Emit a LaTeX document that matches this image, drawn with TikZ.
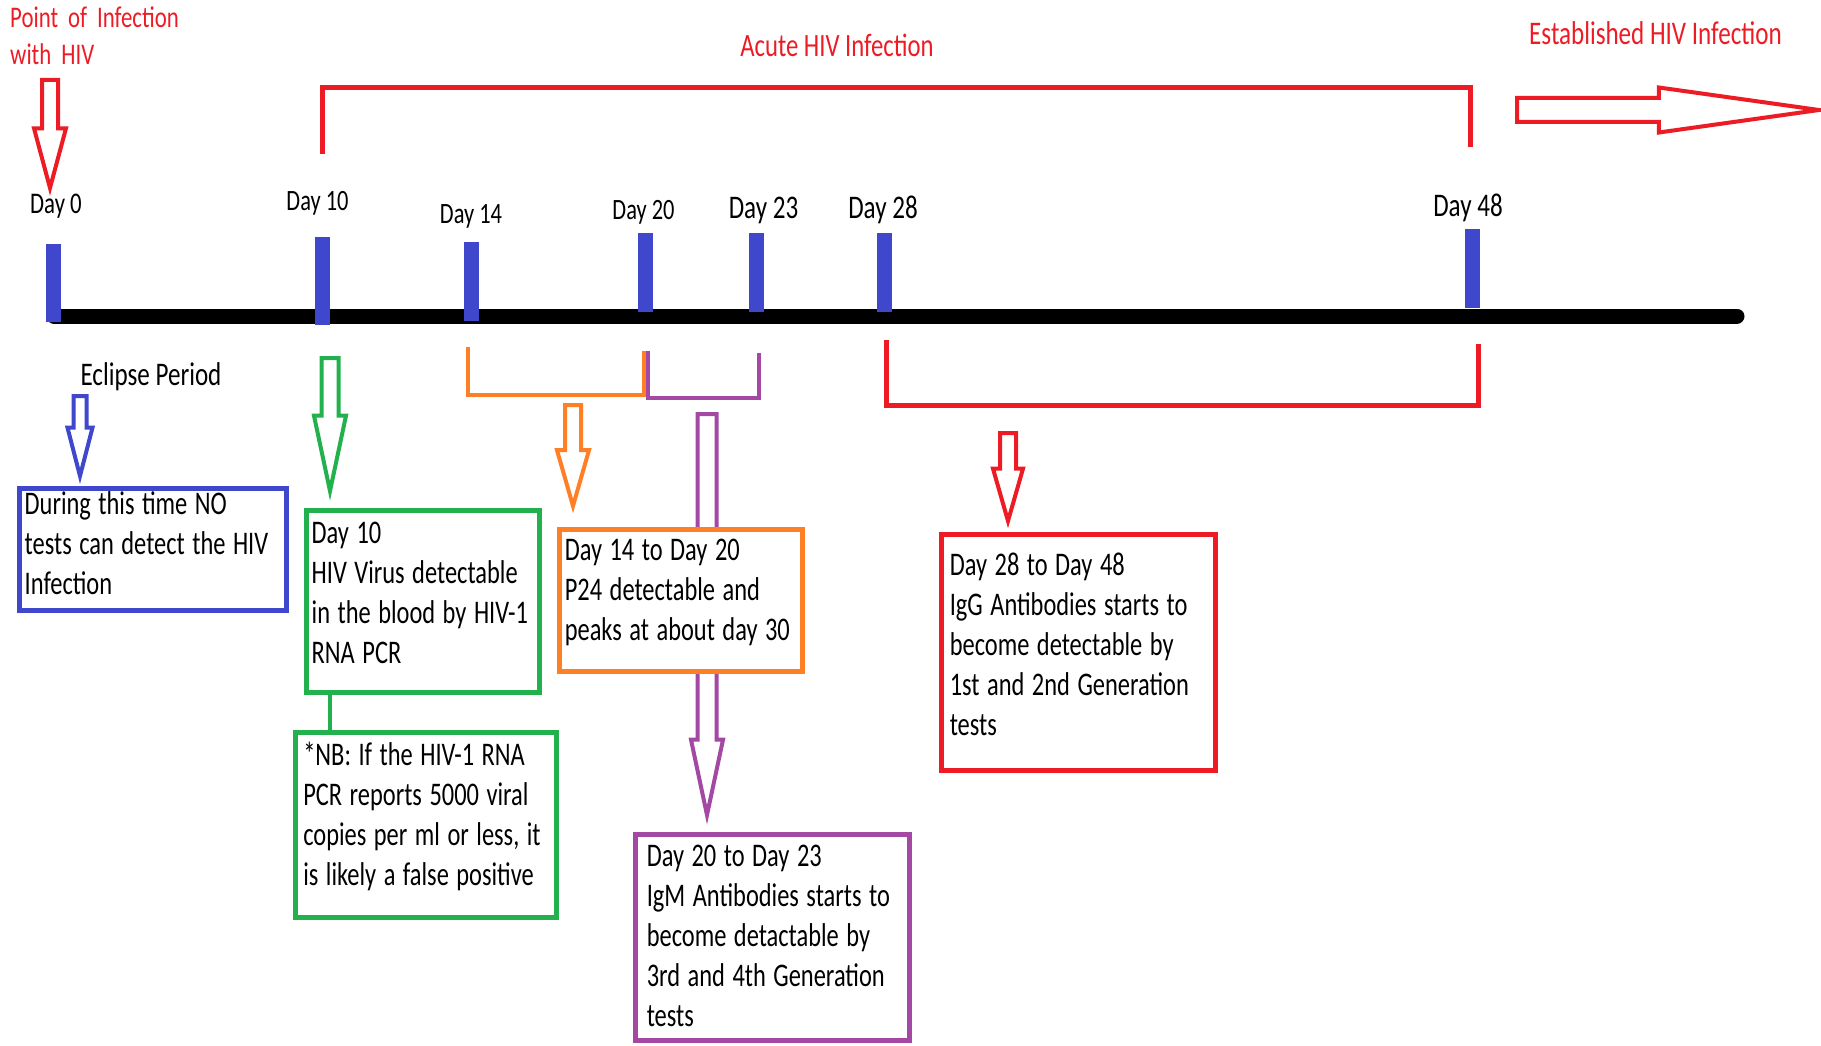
\documentclass[tikz,border=0pt]{standalone}
\usepackage{fontspec}
\setmainfont{Carlito}[FakeStretch=0.76]
\newfontfamily\boxfont{Carlito}[FakeStretch=0.74]
\usetikzlibrary{shapes.arrows}
\definecolor{hivRed}{HTML}{ED1C24}
\definecolor{hivBlue}{HTML}{3F48CC}
\definecolor{hivGreen}{HTML}{22B14C}
\definecolor{hivOrange}{HTML}{FF7F27}
\definecolor{hivPurple}{HTML}{A349A4}
\newcommand{\tightspace}{\spaceskip=7.5pt plus 2pt minus 1pt\relax}

\begin{document}
\begin{tikzpicture}[x=1pt, y=-1pt,
    infobox/.style={rectangle, draw=#1, line width=5pt, fill=white, anchor=north west,
                    outer sep=0pt, inner ysep=0pt, align=left,
                    font=\boxfont\fontsize{33}{40}\selectfont,
                    execute at begin node=\tightspace},
    hollow/.style={single arrow, draw=#1, line width=4pt, fill=white,
                   inner xsep=0pt, outer sep=0pt, anchor=tail},
    bracket/.style={draw=#1, line width=4.5pt},
    daytick/.style={rectangle, fill=hivBlue, minimum width=15pt, inner sep=0pt},
    daylabel/.style={anchor=base, inner sep=0pt},
    heading/.style={inner sep=0pt, anchor=base}
  ]
  \useasboundingbox (0,0) rectangle (1821,1046);

  % Timeline with the day marks
  \coordinate (tstart) at (54,316);
  \coordinate (tend) at (1737,316);
  \draw[line width=15pt, line cap=round] (tstart) -- (tend);
  \foreach \dd/\x/\ytop/\ybot/\lx/\ly/\fs in {0/53/244/322/56/213/30,
      10/322/237/325/317.5/210/29.5, 14/471/242/321/471/223/29.5,
      20/645/233/312/643.5/219.5/29.5, 23/756/233/312/763.5/218/33,
      28/884/233/312/883/218/33, 48/1472/229/308/1468/216/33} {
    \node[daytick, minimum height={\ybot-\ytop}] (d\dd) at (\x,{(\ytop+\ybot)/2}) {};
    \node[daylabel, font=\fontsize{\fs}{\fs}\selectfont] (l\dd) at (\lx,\ly) {Day \dd};
  }

  % Headings
  \node[heading, anchor=base west, text width=200pt, align=left, text=hivRed,
        font=\fontsize{30}{37}\selectfont] (poi) at (10,28) {Point of Infection\\ with HIV};
  \node[heading, text=hivRed, font=\fontsize{32.5}{33}\selectfont] (acute) at (837,57) {Acute HIV Infection};
  \node[heading, text=hivRed, font=\fontsize{33}{33}\selectfont] (established) at (1655.5,45) {Established HIV Infection};
  \node[heading, font=\fontsize{33}{33}\selectfont] (eclipse) at (151,385) {Eclipse Period};

  % Brackets
  \draw[bracket=hivRed] (322.5,154) -- (322.5,87.5) -- (1470.5,87.5) -- (1470.5,147);
  \draw[bracket=hivOrange, line width=4pt] (468,347) -- (468,395) -- (644,395) -- (644,351);
  \draw[bracket=hivPurple, line width=4pt] (648,351) -- (648,398) -- (759,398) -- (759,353);
  \draw[bracket=hivRed, line width=5pt] (886,340) -- (886,405) -- (1478,405) -- (1478,344);

  % Hollow arrows
  \node[hollow=hivRed, rotate=-90, minimum height=108pt, inner ysep=6pt,
        single arrow head extend=8pt, single arrow tip angle=30] (arrinf) at (50,80) {};
  \node[hollow=hivRed, minimum height=302pt, inner ysep=10pt,
        single arrow head extend=10.5pt, single arrow tip angle=16] (arrest) at (1517,110) {};
  \node[hollow=hivBlue, rotate=-90, minimum height=80pt, inner ysep=4.5pt,
        single arrow head extend=6pt, single arrow tip angle=29] (arrecl) at (80,396) {};
  \node[hollow=hivGreen, rotate=-90, minimum height=133pt, inner ysep=6.5pt,
        single arrow head extend=7.5pt, single arrow tip angle=24] (arrten) at (330,358) {};
  \node[hollow=hivOrange, rotate=-90, minimum height=101pt, inner ysep=6pt,
        single arrow head extend=8pt, single arrow tip angle=32] (arrpts) at (573,405) {};
  \node[hollow=hivPurple, rotate=-90, minimum height=401pt, inner ysep=7.5pt,
        single arrow head extend=6.5pt, single arrow tip angle=24] (arrigm) at (707,414) {};
  \node[hollow=hivRed, rotate=-90, minimum height=88pt, inner ysep=6pt,
        single arrow head extend=7pt, single arrow tip angle=32] (arrigg) at (1008,433) {};

  % Boxes
  \node[infobox=hivBlue, inner xsep=5pt, text width=257pt, text height=25.5pt, text depth=96.5pt]
    (boxecl) at (19.7,488.5) {During this time NO\\ tests can detect the HIV\\ Infection};
  \node[infobox=hivGreen, inner xsep=5pt, text width=222.3pt, text height=33pt, text depth=149.6pt]
    (boxten) at (306.7,510.1) {Day 10\\ HIV Virus detectable\\ in the blood by HIV-1\\ RNA PCR};
  \node[infobox=hivGreen, inner xsep=8pt, text width=244.9pt, text height=33.5pt, text depth=151.7pt]
    (boxnb) at (295.3,732.1) {*NB: If the HIV-1 RNA\\ PCR reports 5000 viral\\ copies per ml or less, it\\ is likely a false positive};
  \node[infobox=hivOrange, inner xsep=5pt, text width=232.7pt, text height=30.8pt, text depth=111.5pt]
    (boxpts) at (559.8,529.2) {Day 14 to Day 20\\ P24 detectable and\\ peaks at about day 30};
  \node[infobox=hivPurple, inner xsep=11pt, text width=251.4pt, text height=32.5pt, text depth=174.1pt]
    (boxigm) at (635.8,834.2) {Day 20 to Day 23\\ IgM Antibodies starts to\\ become detactable by\\ 3rd and 4th Generation\\ tests};
  \node[infobox=hivRed, inner xsep=8pt, text width=258pt, text height=40.2pt, text depth=195.8pt]
    (boxigg) at (941.8,534.8) {Day 28 to Day 48\\ IgG Antibodies starts to\\ become detectable by\\ 1st and 2nd Generation\\ tests};

  \draw[hivGreen, line width=4.5pt] (boxten.south -| arrten.tip) -- (boxnb.north -| arrten.tip);
\end{tikzpicture}
\end{document}
